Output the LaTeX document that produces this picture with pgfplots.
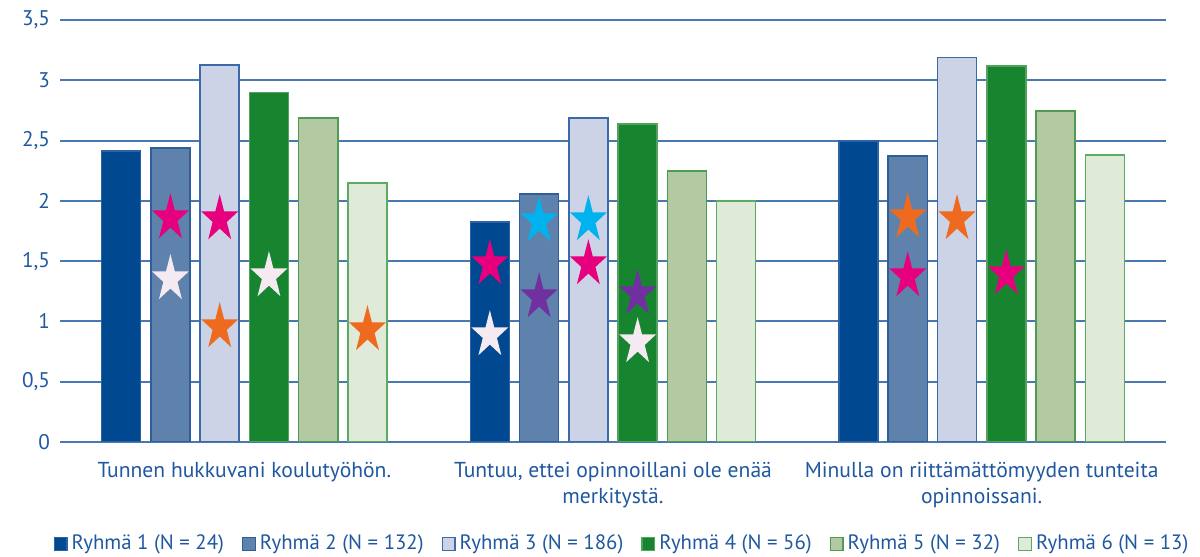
\documentclass[border=0pt]{standalone}
\usepackage{fontspec}
\setmainfont{PT Sans}
\usepackage{pgfplots}
\pgfplotsset{compat=1.18}
\definecolor{textblue}{HTML}{2058A0}
\definecolor{gridblue}{HTML}{4A78B0}
\definecolor{cA}{HTML}{00488F}\definecolor{bA}{HTML}{2C63A6}
\definecolor{cB}{HTML}{5F82AD}\definecolor{bB}{HTML}{2E5E9C}
\definecolor{cC}{HTML}{CCD3E6}\definecolor{bC}{HTML}{3A6AAA}
\definecolor{cD}{HTML}{17852F}\definecolor{bD}{HTML}{54A15F}
\definecolor{cE}{HTML}{B3C9A1}\definecolor{bE}{HTML}{4E9A56}
\definecolor{cF}{HTML}{E0EAD9}\definecolor{bF}{HTML}{5CAA63}
\definecolor{sMag}{HTML}{E6007E}
\definecolor{sWhite}{HTML}{F5EAF2}
\definecolor{sOra}{HTML}{EE6A1F}
\definecolor{sCyan}{HTML}{00B2EE}
\definecolor{sPur}{HTML}{7030A0}
\pgfdeclareplotmark{fstar}{%
  \pgfpathmoveto{\pgfpoint{0pt}{1.28\pgfplotmarksize}}%
  \pgfpathlineto{\pgfpoint{-0.2245\pgfplotmarksize}{0.3955\pgfplotmarksize}}%
  \pgfpathlineto{\pgfpoint{-0.9511\pgfplotmarksize}{0.3955\pgfplotmarksize}}%
  \pgfpathlineto{\pgfpoint{-0.3633\pgfplotmarksize}{-0.1510\pgfplotmarksize}}%
  \pgfpathlineto{\pgfpoint{-0.5878\pgfplotmarksize}{-1.0355\pgfplotmarksize}}%
  \pgfpathlineto{\pgfpoint{0pt}{-0.4890\pgfplotmarksize}}%
  \pgfpathlineto{\pgfpoint{0.5878\pgfplotmarksize}{-1.0355\pgfplotmarksize}}%
  \pgfpathlineto{\pgfpoint{0.3633\pgfplotmarksize}{-0.1510\pgfplotmarksize}}%
  \pgfpathlineto{\pgfpoint{0.9511\pgfplotmarksize}{0.3955\pgfplotmarksize}}%
  \pgfpathlineto{\pgfpoint{0.2245\pgfplotmarksize}{0.3955\pgfplotmarksize}}%
  \pgfpathclose
  \pgfusepathqfill}
\begin{document}
\begin{tikzpicture}
\begin{axis}[
  name=ax,
  scale only axis,
  width=553pt, height=211pt,
  xmin=-0.5, xmax=2.5,
  ymin=0, ymax=3.5,
  ytick={0,0.5,...,3.5},
  xtick={0,1,2},
  xticklabels={{Tunnen hukkuvani koulutyöhön.},{Tuntuu, ettei opinnoillani ole enää\\merkitystä.},{Minulla on riittämättömyyden tunteita\\opinnoissani.}},
  xticklabel style={align=center, text=textblue, font=\fontsize{10.8}{13}\selectfont, yshift=-6.5pt},
  yticklabel style={text=textblue, font=\fontsize{10.6}{12}\selectfont, xshift=-1.5pt},
  /pgf/number format/use comma,
  /pgf/number format/assume math mode=true,
  axis line style={draw=none},
  major tick length=0pt,
  ymajorgrids,
  grid style={gridblue, line width=1pt},
  ybar, bar shift=0pt, bar width=0.106,
  legend columns=6,
  legend style={at={(0.5,0)}, anchor=center, yshift=-51pt, xshift=5pt, draw=none, fill=none,
    font=\fontsize{10.4}{12}\selectfont, text=textblue, inner sep=0pt, outer sep=0pt,
    /tikz/every even column/.append style={column sep=7pt}},
  legend image code/.code={\draw[#1, line width=0.6pt, bar width=0pt] (0pt,-3.2pt) rectangle (6.4pt,3.2pt);},
]
\addplot[fill=cA, draw=bA, line width=0.75pt] coordinates {(-0.334,2.413) (0.666,1.824) (1.666,2.496)};
\addplot[fill=cB, draw=bB, line width=0.75pt] coordinates {(-0.2005,2.44) (0.7995,2.056) (1.7995,2.37)};
\addplot[fill=cC, draw=bC, line width=0.75pt] coordinates {(-0.0668,3.126) (0.9332,2.687) (1.9332,3.19)};
\addplot[fill=cD, draw=bD, line width=0.75pt] coordinates {(0.0668,2.90) (1.0668,2.637) (2.0668,3.118)};
\addplot[fill=cE, draw=bE, line width=0.75pt] coordinates {(0.2005,2.687) (1.2005,2.247) (2.2005,2.745)};
\addplot[fill=cF, draw=bF, line width=0.75pt] coordinates {(0.334,2.148) (1.334,1.998) (2.334,2.38)};
\legend{Ryhmä 1 (N = 24),Ryhmä 2 (N = 132),Ryhmä 3 (N = 186),Ryhmä 4 (N = 56),Ryhmä 5 (N = 32),Ryhmä 6 (N = 13)}
% stars
\addplot[forget plot, only marks, mark=fstar, mark size=9.75pt, color=sMag, mark options={fill=sMag}]
  coordinates {(-0.2005,1.857) (-0.0668,1.849) (0.666,1.476) (0.9332,1.476) (1.7995,1.376) (2.0668,1.393)};
\addplot[forget plot, only marks, mark=fstar, mark size=9.75pt, color=sWhite, mark options={fill=sWhite}]
  coordinates {(-0.2005,1.352) (0.0668,1.376) (0.666,0.887) (1.0668,0.829)};
\addplot[forget plot, only marks, mark=fstar, mark size=9.75pt, color=sOra, mark options={fill=sOra}]
  coordinates {(-0.0668,0.954) (0.334,0.929) (1.7995,1.866) (1.9332,1.849)};
\addplot[forget plot, only marks, mark=fstar, mark size=9.75pt, color=sCyan, mark options={fill=sCyan}]
  coordinates {(0.7995,1.833) (0.9332,1.841)};
\addplot[forget plot, only marks, mark=fstar, mark size=9.75pt, color=sPur, mark options={fill=sPur}]
  coordinates {(0.7995,1.202) (1.0668,1.227)};
\end{axis}
\path ([xshift=-30pt,yshift=-56pt]ax.south west) rectangle ([xshift=17pt,yshift=10pt]ax.north east);
\end{tikzpicture}
\end{document}
